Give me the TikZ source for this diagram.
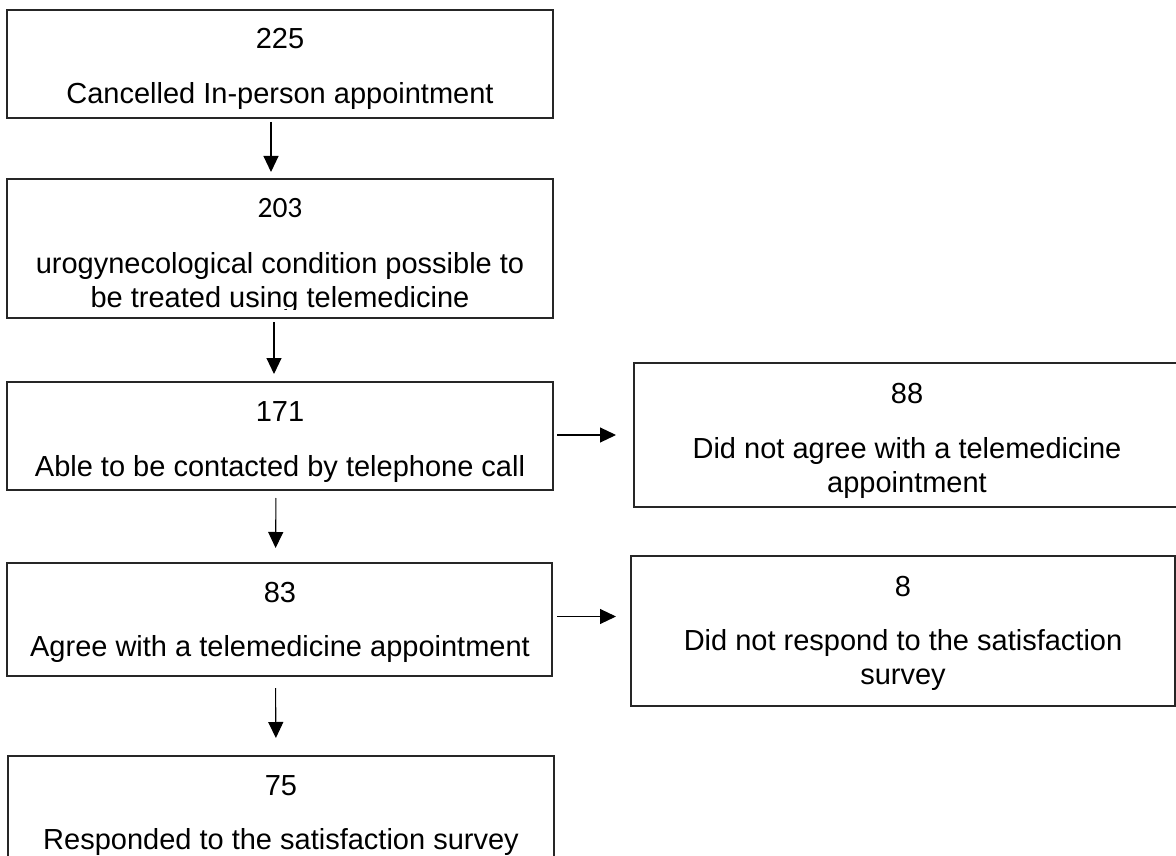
\documentclass[tikz,border=0pt]{standalone}
\usepackage{fontspec}
\setmainfont{Liberation Sans}
\newfontfamily\calfont{Carlito}
\usetikzlibrary{arrows.meta}
\begin{document}
\begin{tikzpicture}[x=1pt,y=-1pt,
  boxst/.style={draw=black!85, line width=1.5pt, inner sep=0pt, outer sep=0pt, anchor=north west},
  txt/.style={inner sep=0pt, anchor=base, font=\fontsize{29}{33.4}\selectfont},
  calt/.style={inner sep=0pt, anchor=base, font=\calfont\fontsize{29.5}{34}\selectfont},
  arr/.style={draw=black, line width=1.1pt, -{Triangle[length=16pt,width=15pt]}}]
\useasboundingbox (0,0) rectangle (1176,856);
% boxes
\node[boxst, minimum width=546pt, minimum height=108pt] (b1) at (7,10) {};
\node[boxst, minimum width=546pt, minimum height=139pt] (b2) at (7,179) {};
\node[boxst, minimum width=546pt, minimum height=108pt] (b3) at (7,382) {};
\node[boxst, minimum width=545pt, minimum height=113pt] (b4) at (7,563) {};
\node[boxst, minimum width=546pt, minimum height=120pt] (b5) at (8,756) {};
\node[boxst, minimum width=548pt, minimum height=144pt] (r1) at (634,363) {};
\node[boxst, minimum width=544pt, minimum height=150pt] (r2) at (631,556) {};
% texts
\node[txt] (t1a) at (280,49) {225};
\node[txt] (t1b) at (280,104) {Cancelled In-person appointment};
\node[calt] (t2a) at (280,218) {203};
\node[txt] (t2b) at (280,273) {urogynecological condition possible to};
\begin{scope}
\clip (0,0) rectangle (1176,309);
\node[txt] (t2c) at (280,307) {be treated using telemedicine};
\end{scope}
\node[txt] (t3a) at (280,421) {171};
\node[txt] (t3b) at (280,476) {Able to be contacted by telephone call};
\node[txt] (t4a) at (280,602) {83};
\node[txt] (t4b) at (280,656) {Agree with a telemedicine appointment};
\node[txt] (t5a) at (281,795) {75};
\node[txt] (t5b) at (281,849) {Responded to the satisfaction survey};
\node[txt] (r1a) at (907,403) {88};
\node[txt] (r1b) at (907,458) {Did not agree with a telemedicine};
\node[txt] (r1c) at (907,492) {appointment};
\node[txt] (r2a) at (903,596) {8};
\node[txt] (r2b) at (903,650) {Did not respond to the satisfaction};
\node[txt] (r2c) at (903,684) {survey};
% arrows
\draw[arr, shorten <=4pt, shorten >=7pt] ([xshift=-9pt]b1.south) -- ([xshift=-9pt]b2.north);
\draw[arr, shorten <=4pt, shorten >=8pt] ([xshift=-6pt]b2.south) -- ([xshift=-6pt]b3.north);
\draw[arr, shorten <=8pt, shorten >=15pt] ([xshift=-4pt]b3.south) -- ([xshift=-4pt]b4.north);
\draw[arr, shorten <=12pt, shorten >=18pt] ([xshift=-4pt]b4.south) -- ([xshift=-5pt]b5.north);
\draw[arr, shorten <=4pt, shorten >=18pt] ([yshift=1pt]b3.east) -- ([yshift=1pt]b3.east -| r1.west);
\draw[arr, shorten <=5pt, shorten >=15pt] ([yshift=3pt]b4.east) -- ([yshift=3pt]b4.east -| r2.west);
\end{tikzpicture}
\end{document}
